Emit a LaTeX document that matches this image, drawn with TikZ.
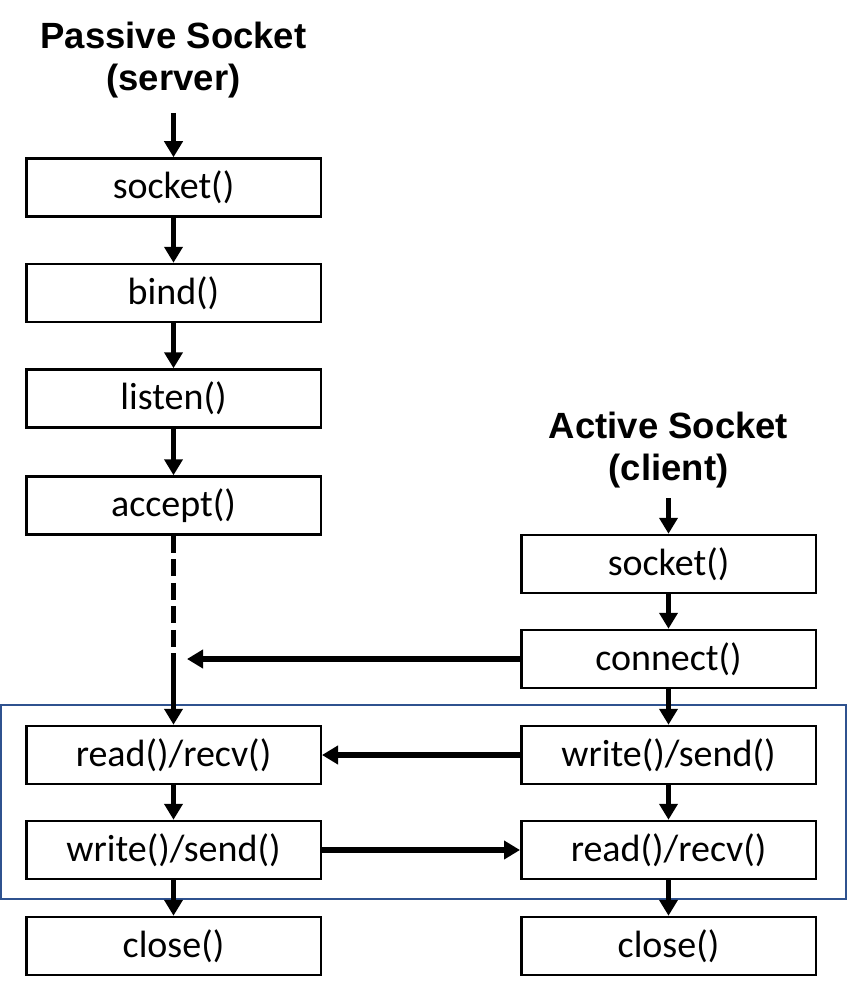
\documentclass[tikz,border=0pt]{standalone}
\usepackage{fontspec}
\setmainfont{Carlito}
\newfontfamily\headfont{Liberation Sans}
\usetikzlibrary{arrows.meta,positioning,calc}
\definecolor{frameblue}{RGB}{47,82,143}

\begin{document}
\begin{tikzpicture}[x=1pt,y=-1pt,
    call/.style={draw, line width=2.5pt, minimum width=294.5pt, minimum height=58pt, inner sep=0pt, font=\fontsize{38}{45}\selectfont},
    head/.style={align=center, inner sep=0pt, anchor=south, font=\headfont\bfseries\fontsize{36.5}{42}\selectfont},
    flow/.style={line width=5.5pt, -{Triangle[width=18pt,length=16pt]}}]
    \useasboundingbox (0,0) rectangle (847,992);

    % Data exchange frame
    \draw[frameblue, line width=2pt] (1,705) rectangle (846,899);

    % Server side
    \node[head] (srv) at (173.5,98) {Passive Socket\\(server)};
    \node[call] (sSock) at (173.5,187.5) {socket()};
    \node[call, below=45pt of sSock] (sBind) {bind()};
    \node[call, below=45pt of sBind] (sListen) {listen()};
    \node[call, below=46.5pt of sListen] (sAcc) {accept()};
    \node[call] (sRead) at (173.5,755) {read()/recv()};
    \node[call, below=34.5pt of sRead] (sWrite) {write()/send()};
    \node[call, below=35.5pt of sWrite] (sClose) {close()};
    \coordinate (join) at (173.5,658);
    \coordinate (hook) at (187,659);

    % Client side
    \node[head] (cli) at (668.5,488) {Active Socket\\(client)};
    \node[call] (cSock) at (668.5,564) {socket()};
    \node[call, below=34.5pt of cSock] (cConn) {connect()};
    \node[call] (cWrite) at (668.5,755) {write()/send()};
    \node[call, below=34.5pt of cWrite] (cRead) {read()/recv()};
    \node[call, below=35.5pt of cRead] (cClose) {close()};

    \draw[flow, shorten <=15pt] (srv.south) -- (sSock);
    \draw[flow] (sSock) -- (sBind);
    \draw[flow] (sBind) -- (sListen);
    \draw[flow] (sListen) -- (sAcc);
    \draw[line width=5.5pt, dash pattern=on 17pt off 6.5pt] (sAcc) -- (join);
    \draw[flow] (join) -- (sRead);
    \draw[flow] (sRead) -- (sWrite);
    \draw[flow] (sWrite) -- (sClose);

    \draw[flow, shorten <=10pt] (cli.south) -- (cSock);
    \draw[flow] (cSock) -- (cConn);
    \draw[flow] (cConn) -- (cWrite);
    \draw[flow] (cWrite) -- (cRead);
    \draw[flow] (cRead) -- (cClose);

    % Messages between the two
    \draw[flow] (cConn) -- (hook);
    \draw[flow] (cWrite) -- (sRead);
    \draw[flow] (sWrite) -- (cRead);
\end{tikzpicture}
\end{document}
